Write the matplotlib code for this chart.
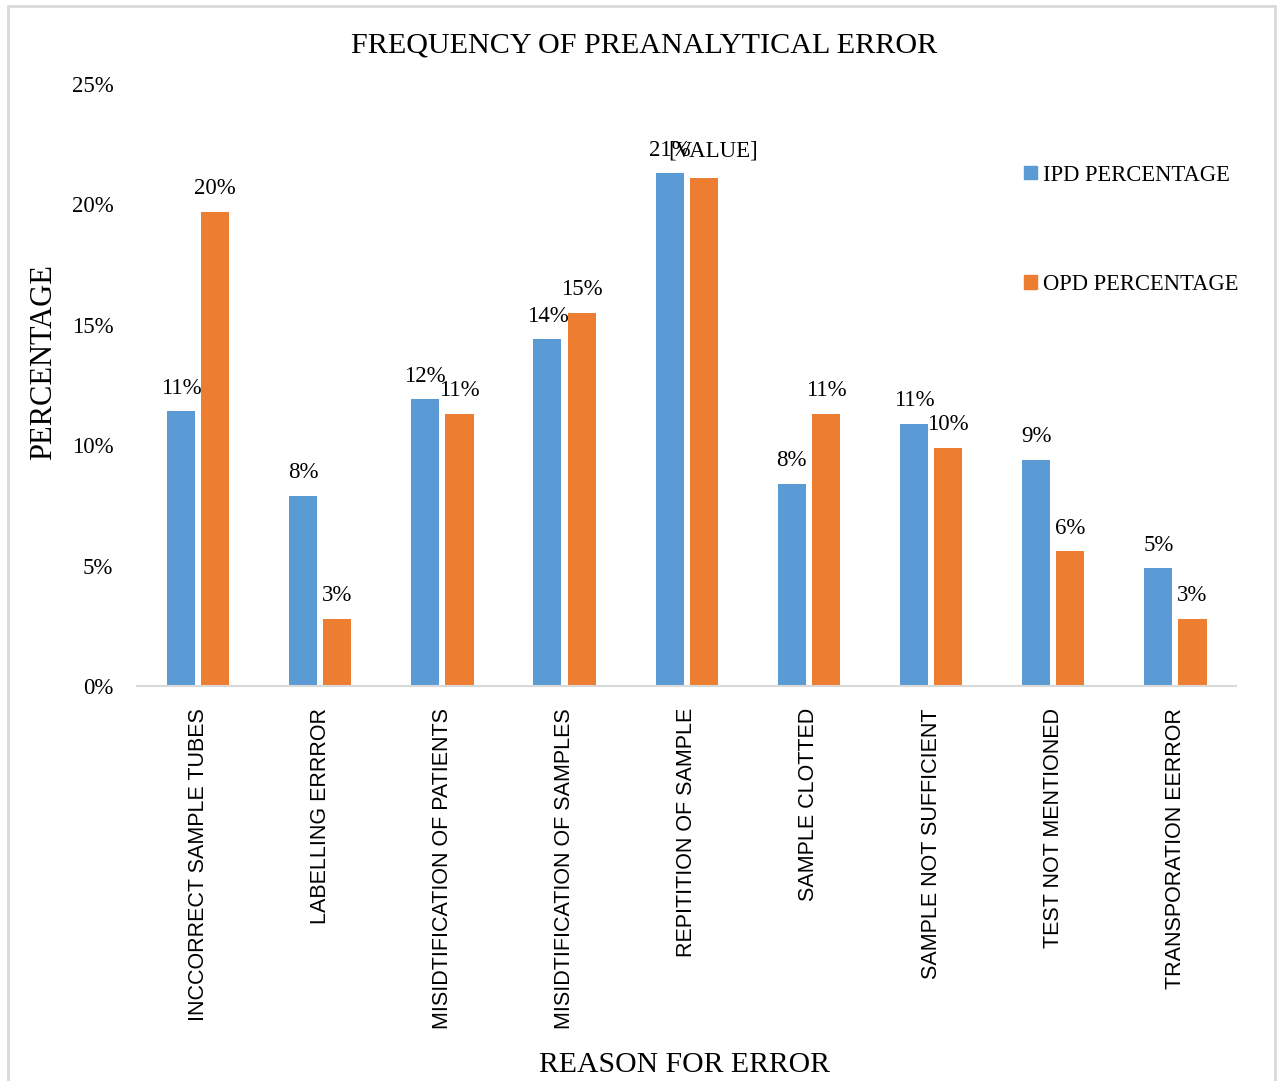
import numpy as np
import matplotlib.pyplot as plt
from matplotlib.patches import Rectangle, Patch

# data
categories = ["INCCORRECT SAMPLE TUBES", "LABELLING ERRROR", "MISIDTIFICATION OF PATIENTS",
              "MISIDTIFICATION OF SAMPLES", "REPITITION OF SAMPLE", "SAMPLE CLOTTED",
              "SAMPLE NOT SUFFICIENT", "TEST NOT MENTIONED", "TRANSPORATION EERROR"]
ipd = [0.114, 0.079, 0.119, 0.144, 0.213, 0.084, 0.109, 0.094, 0.049]
opd = [0.197, 0.028, 0.113, 0.155, 0.211, 0.113, 0.099, 0.056, 0.028]
ipd_labels = ["11%", "8%", "12%", "14%", "21%", "8%", "11%", "9%", "5%"]
opd_labels = ["20%", "3%", "11%", "15%", "[VALUE]", "11%", "10%", "6%", "3%"]
yticks = [0, 0.05, 0.10, 0.15, 0.20, 0.25]
ytick_labels = ["0%", "5%", "10%", "15%", "20%", "25%"]

blue = "#5B9BD5"
orange = "#ED7D31"
serif = "Liberation Serif"

fig = plt.figure(figsize=(12.8, 10.81), dpi=100)
ax = fig.add_axes([0.107, 0.3654, 0.859, 0.5569])

x = np.arange(len(categories))
w = 0.23
b1 = ax.bar(x - 0.14, ipd, w, color=blue, label="IPD PERCENTAGE")
b2 = ax.bar(x + 0.14, opd, w, color=orange, label="OPD PERCENTAGE")

for rect, lab in zip(b1, ipd_labels):
    ax.annotate(lab, (rect.get_x() + rect.get_width() / 2, rect.get_height()),
                xytext=(0, 9), textcoords="offset points", ha="center", va="bottom",
                fontsize=16.5, family=serif)
for rect, lab in zip(b2, opd_labels):
    dx = 7 if lab == "[VALUE]" else 0
    dy = 12 if lab == "[VALUE]" else 9
    ax.annotate(lab, (rect.get_x() + rect.get_width() / 2, rect.get_height()),
                xytext=(dx, dy), textcoords="offset points", ha="center", va="bottom",
                fontsize=16.5, family=serif)

ax.set_xlim(-0.5, len(categories) - 0.5)
ax.set_ylim(0, 0.25)
ax.set_yticks(yticks)
ax.set_yticklabels(ytick_labels, family=serif, fontsize=16.5)
ax.set_xticks(x)
ax.set_xticklabels(categories, rotation=90, family="Liberation Sans", fontsize=15.5,
                   va="top", ha="center")
ax.tick_params(axis="y", length=0, pad=17)
ax.tick_params(axis="x", length=0, pad=16)

for s in ["top", "right", "left"]:
    ax.spines[s].set_visible(False)
ax.spines["bottom"].set_color("#d9d9d9")
ax.spines["bottom"].set_linewidth(1.5)

ax.legend(handles=[Patch(color=blue, label="IPD PERCENTAGE"),
                   Patch(color=orange, label="OPD PERCENTAGE")],
          loc="upper right", bbox_to_anchor=(1.02, 0.90), frameon=False,
          prop={"family": serif, "size": 16.3}, handlelength=0.55, handleheight=0.55,
          handletextpad=0.25, labelspacing=3.9)

fig.text(0.503, 0.958, "FREQUENCY OF PREANALYTICAL ERROR", ha="center", va="center",
         family=serif, fontsize=21.7)
fig.text(0.034, 0.665, "PERCENTAGE", rotation=90, ha="center", va="center",
         family=serif, fontsize=22)
fig.text(0.535, 0.015, "REASON FOR ERROR", ha="center", va="center",
         family=serif, fontsize=21.4)

fig.patches.append(Rectangle((0.006, -0.01), 0.99, 1.004, transform=fig.transFigure,
                             fill=False, edgecolor="#d9d9d9", linewidth=2))

fig.savefig("out.png", dpi=100)
